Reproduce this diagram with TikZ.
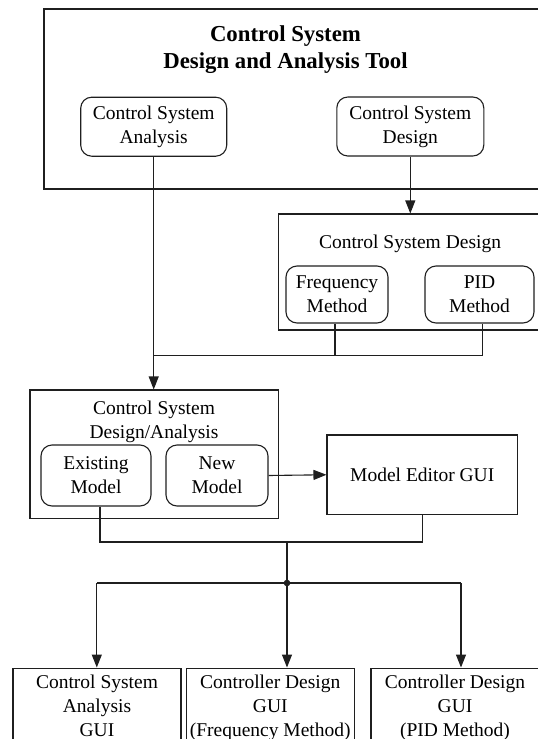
\documentclass[tikz,border=0pt]{standalone}
\usepackage{fontspec}
\setmainfont{Liberation Serif}
\usetikzlibrary{arrows.meta}
\begin{document}
\begin{tikzpicture}[x=1pt,y=-1pt,
  line width=1.1pt, color=black!88,
  every node/.style={font=\fontsize{19.5}{24}\selectfont, align=center, inner sep=0pt, text=black},
  rbox/.style={draw, rounded corners=11pt, minimum width=#1, minimum height=59pt},
  cbox/.style={draw, rectangle},
  gbox/.style={draw, rectangle, anchor=north, minimum width=168pt, inner ysep=6.5pt},
  arr/.style={-{Triangle[length=13pt,width=10pt]}}]
\useasboundingbox (0,0) rectangle (538,739);
\clip (0,0) rectangle (538,739);

% top container
\node[cbox, minimum width=516pt, minimum height=180pt] (top) at (302,99) {};
\node[font=\fontsize{22.8}{27.5}\selectfont\bfseries] (title) at (285.5,49.7) {Control System\\Design and Analysis Tool};
\node[rbox=146pt] (csa) at (153.7,126.7) {Control System\\Analysis};
\node[rbox=147pt] (csd) at (410.3,126.5) {Control System\\Design};

% design container
\node[cbox, minimum width=282pt, minimum height=116pt] (csd2) at (419.3,272) {};
\node (csd2t) at (410,244) {Control System Design};
\node[rbox=102pt, minimum height=57pt] (freq) at (337,294.5) {Frequency\\Method};
\node[rbox=109pt, minimum height=57pt] (pid) at (479.5,294.5) {PID\\Method};

% design/analysis container
\node[cbox, minimum width=248.7pt, minimum height=128.5pt] (da) at (154.35,454.25) {};
\node (dat) at (154,421.5) {Control System\\Design/Analysis};
\node[rbox=110pt, minimum height=61pt] (ex) at (96,475.5) {Existing\\Model};
\node[rbox=102pt, minimum height=61pt] (new) at (217,475.5) {New\\Model};
\node[cbox, minimum width=190.5pt, minimum height=79.5pt] (me) at (422.25,474.75) {Model Editor GUI};

% GUI boxes
\node[gbox] (b1) at (97,667.5) {Control System\\Analysis\\GUI};
\node[gbox] (b2) at (270.25,667.5) {Controller Design\\GUI\\(Frequency Method)};
\node[gbox] (b3) at (455,667.5) {Controller Design\\GUI\\(PID Method)};

% connectors
\coordinate (jn) at (154,355.7);
\coordinate (j2) at (287,542);
\coordinate (dot) at (287,583);
\coordinate (a1) at (96.8,583);
\coordinate (a3) at (461,583);

\draw[arr] (csa.south) -- (csa.south |- da.north);
\draw[arr] (csd.south) -- (csd.south |- csd2.north);
\draw ([xshift=-2pt]freq.south) |- (jn);
\draw ([xshift=3pt]pid.south) |- (jn);
\draw[arr] (new.east) -- (me.west);
\draw ([xshift=4pt]ex.south) |- (me.south |- j2) -- (me.south);
\draw (j2) -- (dot);
\fill (dot) circle (3.3pt);
\draw (a1) -- (a3);
\draw[arr] (a1) -- (a1 |- b1.north);
\draw[arr] (dot) -- (dot |- b2.north);
\draw[arr] (a3) -- (a3 |- b3.north);
\end{tikzpicture}
\end{document}
